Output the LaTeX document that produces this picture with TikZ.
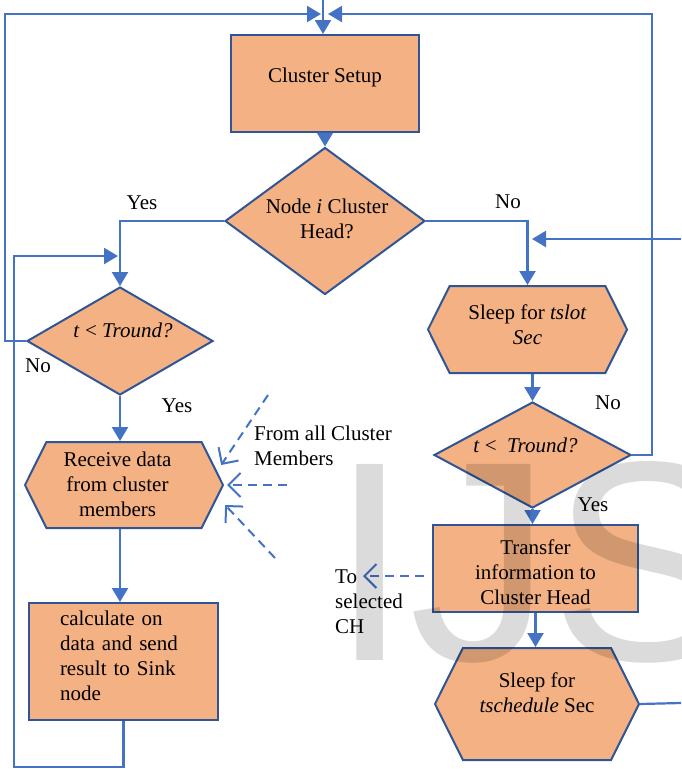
\documentclass[tikz,border=0pt]{standalone}
\usepackage{fontspec}
\setmainfont{Liberation Serif}
\setsansfont{Liberation Sans}
\usetikzlibrary{arrows.meta,shapes.geometric,shapes.symbols}
\definecolor{boxfill}{HTML}{F4B183}
\definecolor{boxline}{HTML}{2F5597}
\definecolor{flowblue}{HTML}{4472C4}
\tikzset{
  shapebase/.style={draw=boxline, fill=boxfill, line width=2pt, inner sep=0pt},
  procbox/.style={shapebase, rectangle},
  decision/.style={shapebase, diamond},
  hexbox/.style={shapebase, signal, signal to=west and east, signal pointer angle=127},
  txt/.style={align=center, font=\fontsize{21}{25}\selectfont, inner sep=0pt},
  note/.style={txt, align=left},
  flow/.style={draw=flowblue, line width=2.2pt, -{Triangle[length=14pt,width=16pt]}},
  link/.style={draw=flowblue, line width=2.2pt},
  feed/.style={draw=flowblue, line width=2pt, dash pattern=on 9pt off 6pt, -{Straight Barb[length=12pt,width=24pt]}},
}
\begin{document}
\begin{tikzpicture}[x=1pt,y=-1pt]
\useasboundingbox (0,0) rectangle (681,769);
% shapes
\node[procbox, minimum width=188pt, minimum height=97pt, label={[txt,yshift=6.5pt]center:Cluster Setup}] (setup) at (325,83.5) {};
\node[decision, minimum width=200pt, minimum height=147pt, label={[txt,yshift=2pt,xshift=2pt]center:{Node \textit{i} Cluster\\Head?}}] (head) at (325,221) {};
\node[decision, minimum width=186pt, minimum height=108pt, label={[txt,yshift=11pt,xshift=3pt]center:{\textit{t} < \textit{Tround?}}}] (round1) at (120,341) {};
\node[hexbox, minimum width=198pt, minimum height=86pt, label={[txt,xshift=-6.5pt,yshift=1pt]center:{Receive data\\from cluster\\members}}] (recv) at (124,485) {};
\node[procbox, minimum width=189pt, minimum height=117pt, label={[note,text width=127pt,xshift=0pt,yshift=5.5pt]center:{calculate on\\data and send\\result to Sink\\node}}] (calc) at (123.5,661.5) {};
\node[hexbox, minimum width=199pt, minimum height=87pt, label={[txt,yshift=5pt]center:{Sleep for \textit{tslot}\\\textit{Sec}}}] (sleep1) at (527.5,329.5) {};
\node[decision, minimum width=197pt, minimum height=106pt, label={[txt,yshift=10pt,xshift=-7pt]center:{\textit{t} <\enspace\textit{Tround?}}}] (round2) at (532.5,455) {};
\node[procbox, minimum width=205pt, minimum height=87pt, label={[txt,yshift=-4pt]center:{Transfer\\information to\\Cluster Head}}] (xfer) at (535.5,568.5) {};
\node[hexbox, minimum width=204pt, minimum height=112pt, label={[txt,yshift=11.5pt]center:{Sleep for\\\textit{tschedule} Sec}}] (sleep2) at (537,704) {};
% branch labels
\node[txt] (yes1) at (142,203) {Yes};
\node[txt] (no1) at (508,202) {No};
\node[txt] (no2) at (38,366) {No};
\node[txt] (yes2) at (177,406) {Yes};
\node[txt] (no3) at (608,403) {No};
\node[txt] (yes3) at (593,505) {Yes};
\node[note, anchor=west] (members) at (254,446) {From all Cluster\\Members};
\node[note, anchor=west] (tosel) at (335,602) {To\\selected\\CH};
% loose ends
\coordinate (entry) at (323,0);
\coordinate (topL) at (321,14);
\coordinate (topR) at (328,14);
\coordinate (joinL) at (118,256);
\coordinate (joinR) at (532,239);
\coordinate (farR) at (681,239);
\coordinate (farR2) at (681,703);
\coordinate (m1) at (268,395);
\coordinate (m2) at (287,485);
\coordinate (m3) at (275,558);
\coordinate (ch) at (363,576);
% connectors
\draw[flow] (entry) -- (entry |- setup.north);
\draw[flow] (setup.south) -- (head.north);
\draw[flow] (head.west) -| (round1.north);
\draw[flow] (head.east) -| (sleep1.north);
\draw[flow] (round1.south) -- (round1.south |- recv.north);
\draw[flow] (round1.south |- recv.south) -- (round1.south |- calc.north);
\draw[flow] (calc.south) -- ++(0,46) -| (14,256) -- (joinL);
\draw[flow] (round1.west) -- ++(-21,0) |- (topL);
\draw[flow] (round2.east) -- ++(20,0) |- (topR);
\draw[flow] (farR) -- (joinR);
\draw[flow] (round2.north |- sleep1.south) -- (round2.north);
\draw[flow] (round2.south) -- (round2.south |- xfer.north);
\draw[flow] (xfer.south) -- (xfer.south |- sleep2.north);
\draw[link] (sleep2.east) -- (farR2);
\draw[feed] (m1) -- ([xshift=-3pt,yshift=20pt]recv.east);
\draw[feed] (m2) -- ([xshift=3pt]recv.east);
\draw[feed] (m3) -- ([xshift=1pt,yshift=-20pt]recv.east);
\draw[feed] ([xshift=-8pt,yshift=-7.5pt]xfer.west) -- (ch);
% watermark
\node[anchor=base west, inner sep=0pt, text=black, text opacity=0.14, font=\sffamily\fontsize{285}{285}\selectfont] (mark) at (330,660) {IJS};
\end{tikzpicture}
\end{document}
